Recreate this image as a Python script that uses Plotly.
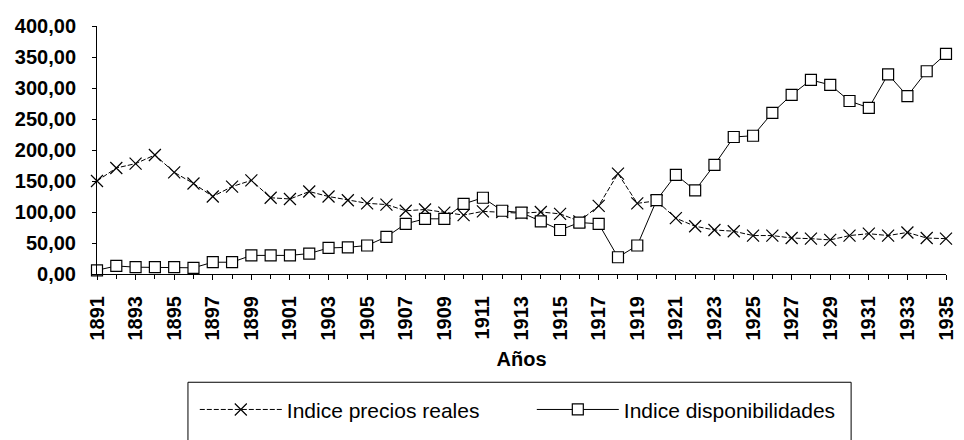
import plotly.graph_objects as go

years = list(range(1891, 1936))

precios_reales = [150, 171, 178, 192, 164, 146, 125, 141, 151, 123,
                  121, 133, 125, 119, 114, 112, 102, 104, 99, 95,
                  101, 100, 98, 100, 97, 85, 110, 162, 114, 118,
                  90, 77, 71, 69, 62, 62, 58, 57, 55, 62,
                  65, 62, 67, 58, 57]

disponibilidades = [6, 13, 11, 11, 11, 10, 19, 19, 30, 30,
                    30, 33, 42, 43, 46, 60, 81, 89, 89, 113,
                    123, 102, 99, 85, 71, 83, 81, 27, 46, 119,
                    160, 135, 176, 221, 223, 260, 289, 313, 305, 279,
                    268, 322, 287, 327, 355]

series_names = ["Indice precios reales", "Indice disponibilidades"]

FONT = "Liberation Sans, Arial, sans-serif"

fig = go.Figure()
fig.add_trace(go.Scatter(
    x=years, y=precios_reales, name=series_names[0], mode="lines+markers",
    line=dict(color="black", width=1, dash="5px,2px"),
    marker=dict(symbol="x-thin-open", size=12, color="black",
                line=dict(color="black", width=1.2)),
    cliponaxis=False,
))
fig.add_trace(go.Scatter(
    x=years, y=disponibilidades, name=series_names[1], mode="lines+markers",
    line=dict(color="black", width=1),
    marker=dict(symbol="square", size=11, color="white",
                line=dict(color="black", width=1.2)),
    cliponaxis=False,
))

# legend frame (extends below the visible area, as in the reference)
fig.add_shape(type="rect", xref="paper", yref="paper",
              x0=(182 - 89) / 868, x1=(860 - 89) / 868,
              y0=(274 - 470) / 252, y1=(274 - 384) / 252,
              line=dict(color="black", width=1), fillcolor="rgba(0,0,0,0)")

fig.update_layout(
    width=956, height=432,
    margin=dict(l=81, r=7, t=14, b=166),
    paper_bgcolor="white", plot_bgcolor="white",
    separators=",.",
    font=dict(family=FONT, color="black"),
    showlegend=True,
    legend=dict(orientation="h", x=(189 - 89) / 868, y=(274 - 412) / 252,
                xanchor="left", yanchor="middle",
                font=dict(family=FONT, size=21, color="black"),
                itemwidth=82, entrywidth=240, entrywidthmode="pixels",
                bgcolor="rgba(0,0,0,0)", borderwidth=0),
    xaxis=dict(
        range=[1891, 1935], tick0=1891, dtick=2, tickangle=-90,
        ticks="outside", ticklen=5, tickcolor="black",
        minor=dict(dtick=1, ticks="outside", ticklen=4, tickcolor="black"),
        showline=True, linecolor="black", linewidth=1,
        showgrid=False, zeroline=False,
        tickfont=dict(family=FONT, size=20, weight="bold", color="black"),
        ticklabelstandoff=8, ticklabeloverflow="allow",
        title=dict(text="Años", standoff=12,
                   font=dict(family=FONT, size=20, weight="bold", color="black")),
    ),
    yaxis=dict(
        range=[0, 400], dtick=50, tickformat=".2f",
        ticks="outside", ticklen=4, tickcolor="black",
        showline=True, linecolor="black", linewidth=1,
        showgrid=False, zeroline=False,
        tickfont=dict(family=FONT, size=20, weight="bold", color="black"),
        ticklabelstandoff=12,
    ),
)

fig.write_html("out.html")
